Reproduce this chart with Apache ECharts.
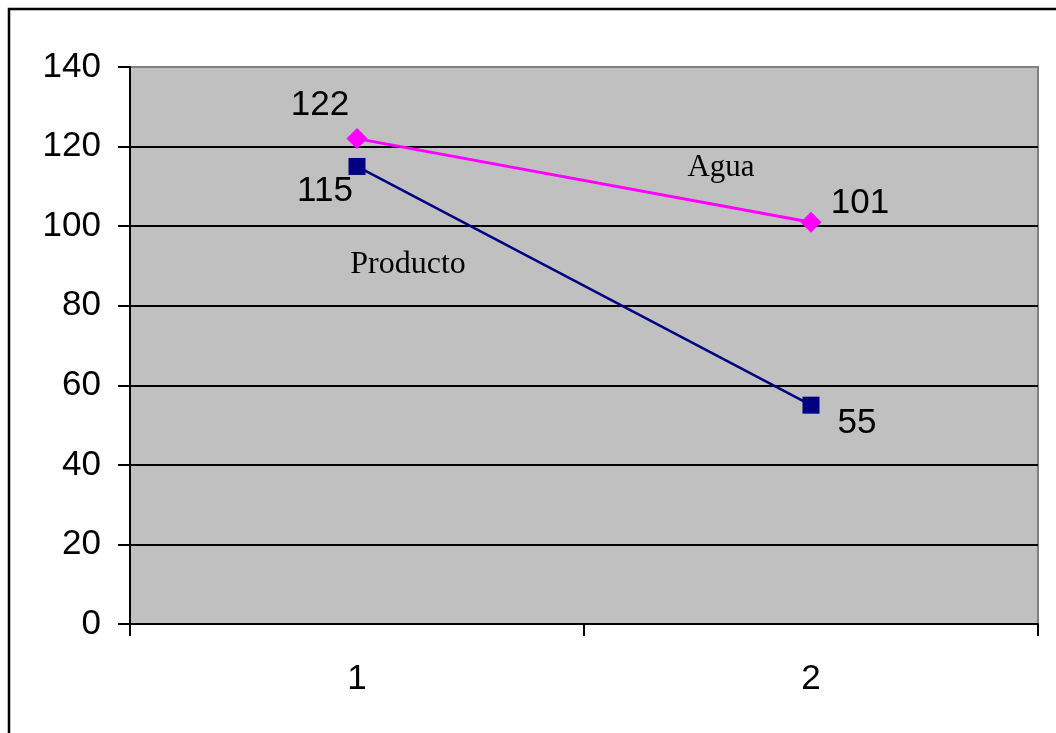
<!DOCTYPE html>
<html>
<head>
<meta charset="utf-8">
<script src="https://cdn.jsdelivr.net/npm/echarts@6/dist/echarts.min.js"></script>
<style>html,body{margin:0;padding:0;background:#fff;}#c{width:1056px;height:733px;}</style>
</head>
<body>
<div id="c"></div>
<script>
const categories = ['1', '2'];
const aguaValues = [122, 101];
const productoValues = [115, 55];
const yTicks = [0, 20, 40, 60, 80, 100, 120, 140];
const seriesNames = ['Agua', 'Producto'];

const chart = echarts.init(document.getElementById('c'));
const numFont = 'Liberation Sans, Arial, sans-serif';
const serifFont = 'Liberation Serif, Times New Roman, serif';

function lbl(dx, dy) {
  return { show: true, position: 'inside', offset: [dx, dy], color: '#000', fontSize: 35, fontFamily: numFont, formatter: p => String(p.value) };
}

chart.setOption({
  animation: false,
  backgroundColor: '#fff',
  grid: { left: 130, top: 67, right: 18, bottom: 109, show: true, backgroundColor: '#c0c0c0', borderColor: '#808080', borderWidth: 2 },
  xAxis: {
    type: 'category', data: categories, boundaryGap: true,
    axisLine: { lineStyle: { color: '#000', width: 2 } },
    axisTick: { show: true, length: 12, alignWithLabel: false, lineStyle: { color: '#000', width: 2 } },
    axisLabel: { color: '#000', fontSize: 35, fontFamily: numFont, margin: 38 },
    splitLine: { show: false }
  },
  yAxis: {
    type: 'value', min: yTicks[0], max: yTicks[yTicks.length - 1], interval: 20,
    axisLine: { show: true, lineStyle: { color: '#000', width: 2 } },
    axisTick: { show: true, length: 12, lineStyle: { color: '#000', width: 2 } },
    axisLabel: { color: '#000', fontSize: 35, fontFamily: numFont, margin: 29 },
    splitLine: { show: true, lineStyle: { color: ['#000','#000','#000','#000','#000','#000','#000','#808080'], width: 2 } }
  },
  series: [
    {
      name: seriesNames[0], type: 'line', data: aguaValues.map((v, i) => ({ value: v, label: i === 0 ? lbl(-37, -33) : lbl(49, -19) })),
      symbol: 'diamond', symbolSize: 21,
      itemStyle: { color: '#ff00ff' }, lineStyle: { color: '#ff00ff', width: 3 }
    },
    {
      name: seriesNames[1], type: 'line', data: productoValues.map((v, i) => ({ value: v, label: i === 0 ? lbl(-32, 25) : lbl(46, 18) })),
      symbol: 'rect', symbolSize: 17,
      itemStyle: { color: '#000080' }, lineStyle: { color: '#000080', width: 2.5 }
    }
  ],
  graphic: [
    { type: 'rect', z: 100, shape: { x: 9, y: 9, width: 1200, height: 1000 }, style: { fill: null, stroke: '#000', lineWidth: 2.5 } },
    { type: 'text', z: 100, x: 721, y: 168, style: { text: seriesNames[0], font: '31px ' + serifFont, fill: '#000', align: 'center', verticalAlign: 'middle' } },
    { type: 'text', z: 100, x: 408, y: 265, style: { text: seriesNames[1], font: '32px ' + serifFont, fill: '#000', align: 'center', verticalAlign: 'middle' } }
  ]
});
</script>
</body>
</html>
